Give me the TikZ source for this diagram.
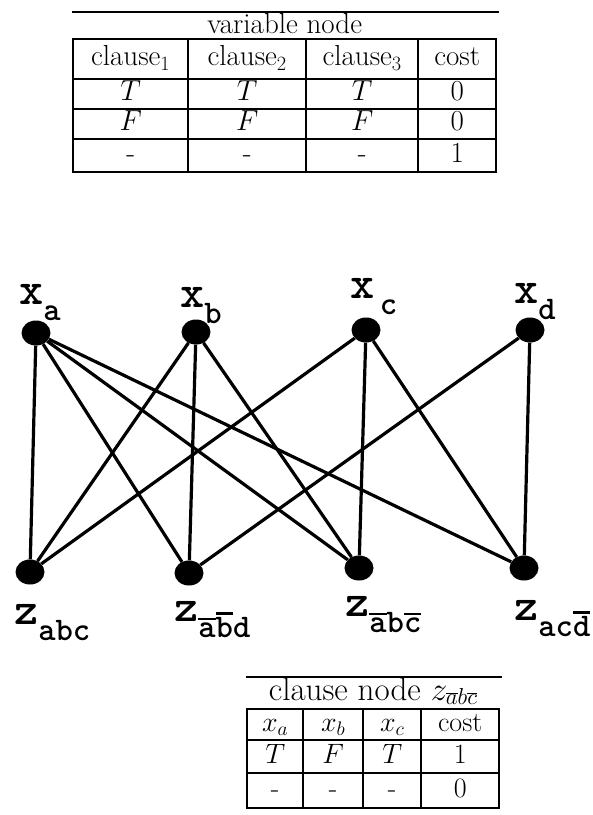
\documentclass[tikz,border=0pt]{standalone}
\usepackage{fix-cm}
\usepackage{fontspec}
\usetikzlibrary{matrix,positioning,shapes.geometric}

% graph labels: big letter with a lowered subscript
\newcommand{\gl}[2]{{\ttfamily\bfseries\fontsize{46}{48}\selectfont #1\raisebox{-16pt}{\fontsize{33}{35}\selectfont #2}}}
% negated literal: thick bar above the letter
\newcommand{\nb}[1]{\setbox0\hbox{#1}\rlap{\raisebox{\dimexpr\ht0+2pt\relax}{\rule{\wd0}{2.4pt}}}\box0}

\begin{document}
\begin{tikzpicture}[
            x=1pt, y=-1pt,
            dot/.style={
                    ellipse,
                    fill=black,
                    minimum width=29pt,
                    minimum height=25pt,
                    inner sep=0pt
                },
            edge/.style={line width=3.2pt},
            toplbl/.style={anchor=base west, inner sep=0pt},
            botlbl/.style={anchor=base west, inner sep=0pt},
            tablegrid/.style={
                    matrix of nodes,
                    inner sep=0pt,
                    anchor=north west,
                    column sep=-2pt,
                    row sep=-2pt,
                    nodes={
                            draw,
                            line width=2pt,
                            inner sep=0pt,
                            text height=19pt,
                            text depth=6pt,
                            anchor=center,
                            font=\fontsize{29}{32}\selectfont
                        }
                },
            ttl/.style={anchor=base, inner sep=0pt, font=\fontsize{29}{32}\selectfont},
            rule/.style={line width=1.6pt}
        ]
        \useasboundingbox (0,0) rectangle (593,815);

        % variable node table
        \matrix (vartab) [tablegrid,
            column 1/.style={nodes={minimum width=115pt}},
            column 2/.style={nodes={minimum width=118pt}},
            column 3/.style={nodes={minimum width=112pt}},
            column 4/.style={nodes={minimum width=78pt}},
            row 1/.style={nodes={minimum height=40pt}},
            row 2/.style={nodes={minimum height=30pt}},
            row 3/.style={nodes={minimum height=30pt}},
            row 4/.style={nodes={minimum height=33pt}}] at (72,38) {
            clause$_1$ & clause$_2$ & clause$_3$ & cost \\
            $T$ & $T$ & $T$ & 0 \\
            $F$ & $F$ & $F$ & 0 \\
            - & - & - & 1 \\
        };
        \node[ttl] (vartitle) at ([yshift=5pt]vartab.north) {variable node};
        \draw[rule] ([yshift=26pt]vartab.north west) -- ([xshift=2pt,yshift=26pt]vartab.north east);

        % variables
        \node[dot] (xa) at (36,333) {};
        \node[dot] (xb) at (196,332) {};
        \node[dot] (xc) at (366,330) {};
        \node[dot] (xd) at (530,330) {};

        % clauses
        \node[dot] (zabc) at (30,572) {};
        \node[dot] (znanbd) at (189,573) {};
        \node[dot] (znabnc) at (359,568) {};
        \node[dot] (zacnd) at (524,568) {};

        \foreach \v/\c in {xa/zabc, xa/znanbd, xa/znabnc, xa/zacnd,
                xb/zabc, xb/znanbd, xb/znabnc,
                xc/zabc, xc/znabnc, xc/zacnd,
                xd/znanbd, xd/zacnd}
        \draw[edge] (\v) -- (\c);

        \node[toplbl] (lxa) at ([xshift=-17pt,yshift=29pt]xa.center) {\gl{x}{a}};
        \node[toplbl] (lxb) at ([xshift=-16pt,yshift=25pt]xb.center) {\gl{x}{b}};
        \node[toplbl] (lxc) at ([xshift=-16pt,yshift=32pt]xc.center) {\gl{x}{\,c}};
        \node[toplbl] (lxd) at ([xshift=-16pt,yshift=27pt]xd.center) {\gl{x}{d}};

        \node[botlbl] (lzabc) at ([xshift=-16pt,yshift=-52pt]zabc.center) {\gl{z}{abc}};
        \node[botlbl] (lznanbd) at ([xshift=-15pt,yshift=-48pt]znanbd.center) {\gl{z}{\nb{a}\nb{b}d}};
        \node[botlbl] (lznabnc) at ([xshift=-14pt,yshift=-48pt]znabnc.center) {\gl{z}{\nb{a}b\nb{c}}};
        \node[botlbl] (lzacnd) at ([xshift=-10pt,yshift=-52pt]zacnd.center) {\gl{z}{ac\nb{d}}};

        % clause node table
        \matrix (clstab) [tablegrid,
            nodes={font=\fontsize{28}{32}\selectfont},
            column 1/.style={nodes={minimum width=56pt}},
            column 2/.style={nodes={minimum width=60pt}},
            column 3/.style={nodes={minimum width=58pt}},
            column 4/.style={nodes={minimum width=78pt}},
            row 1/.style={nodes={minimum height=31pt}},
            row 2/.style={nodes={minimum height=33pt}},
            row 3/.style={nodes={minimum height=35pt}}] at (246,708) {
            $x_a$ & $x_b$ & $x_c$ & cost \\
            $T$ & $F$ & $T$ & 1 \\
            - & - & - & 0 \\
        };
        \node[ttl, font=\fontsize{33}{35}\selectfont] (clstitle) at ([yshift=8pt]clstab.north) {clause node $z_{\overline{a}b\overline{c}}$};
        \draw[rule] ([yshift=31pt]clstab.north west) -- ([xshift=2pt,yshift=31pt]clstab.north east);
    \end{tikzpicture}
\end{document}
